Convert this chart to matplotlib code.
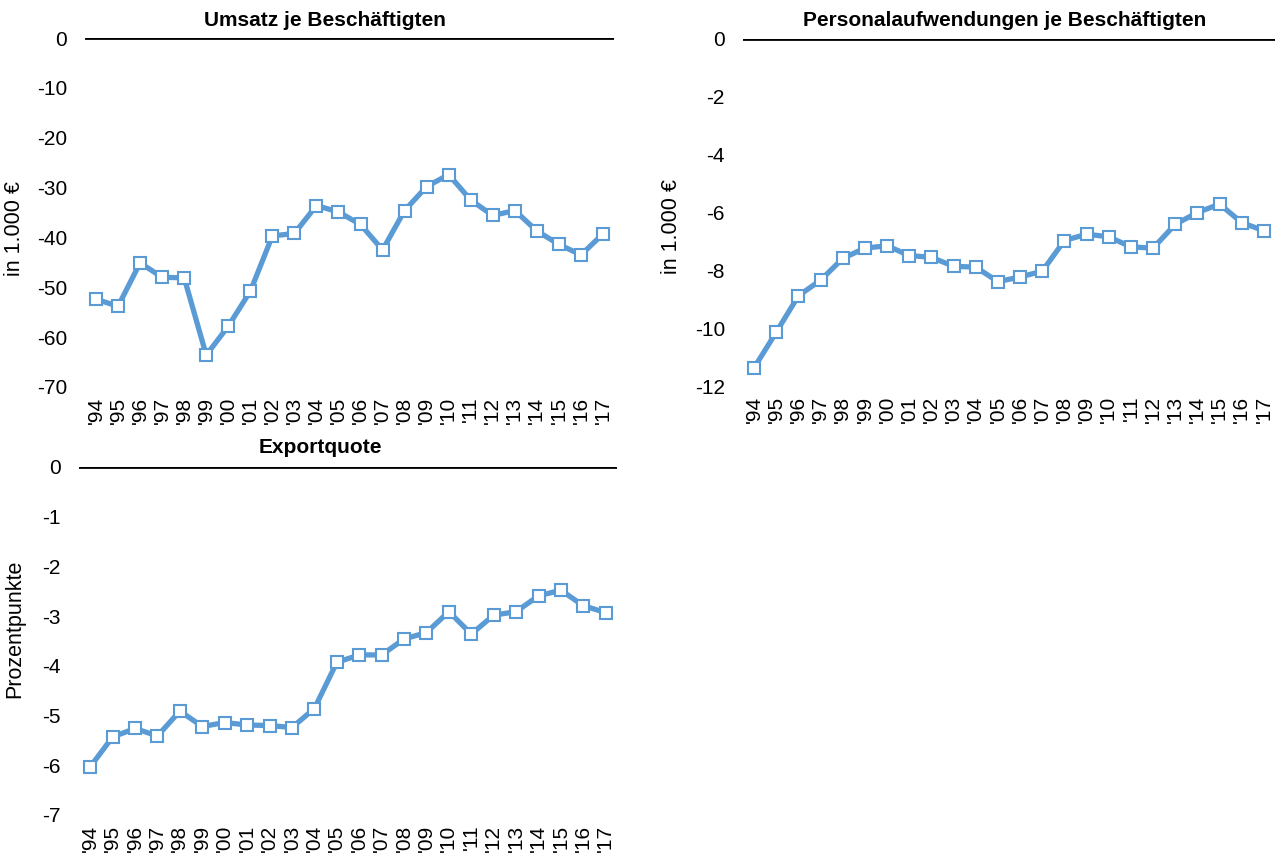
import matplotlib.pyplot as plt

plt.rcParams['font.family'] = ['Liberation Sans', 'DejaVu Sans']
plt.rcParams['axes.unicode_minus'] = False

jahre = ["'94", "'95", "'96", "'97", "'98", "'99", "'00", "'01", "'02", "'03", "'04", "'05",
         "'06", "'07", "'08", "'09", "'10", "'11", "'12", "'13", "'14", "'15", "'16", "'17"]

# Abstand zum Vergleichswert, je Jahr
umsatz = [-52.4, -53.8, -45.1, -48.0, -48.1, -63.6, -57.8, -50.8, -39.7, -39.2, -33.6, -34.9,
          -37.4, -42.5, -34.6, -29.8, -27.4, -32.5, -35.6, -34.6, -38.7, -41.4, -43.5, -39.3]
personal = [-11.37, -10.14, -8.88, -8.34, -7.59, -7.23, -7.15, -7.49, -7.55, -7.86, -7.89, -8.39,
            -8.23, -8.03, -6.97, -6.75, -6.84, -7.19, -7.23, -6.41, -6.00, -5.71, -6.35, -6.63]
export = [-6.03, -5.43, -5.26, -5.41, -4.91, -5.22, -5.14, -5.19, -5.20, -5.24, -4.86, -3.93,
          -3.78, -3.78, -3.46, -3.33, -2.91, -3.36, -2.98, -2.91, -2.59, -2.48, -2.79, -2.93]

titel = ['Umsatz je Beschäftigten', 'Personalaufwendungen je Beschäftigten', 'Exportquote']
einheit = ['in 1.000 €', 'in 1.000 €', 'Prozentpunkte']
yticks = [list(range(0, -71, -10)), list(range(0, -13, -2)), list(range(0, -8, -1))]

blau = '#5B9BD5'
W, H = 1284, 856

fig = plt.figure(figsize=(W / 100, H / 100), dpi=100)

def px_axes(x0, x1, y0, y1):
    # Pixelkoordinaten (oben links) -> Figure-Anteile
    return fig.add_axes([x0 / W, 1 - y1 / H, (x1 - x0) / W, (y1 - y0) / H])

achsen = [px_axes(85, 614, 38, 387), px_axes(743, 1275, 39, 386), px_axes(79, 617, 467, 815)]
reihen = [umsatz, personal, export]
titel_pos = [(325, 20), (1005, 20), (320, 448)]
label_pos = [(15, 229), (672, 227), (15, 629)]

for ax, werte, t, e, yt, tp, lp in zip(achsen, reihen, titel, einheit, yticks, titel_pos, label_pos):
    x = list(range(len(jahre)))
    ax.plot(x, werte, color=blau, lw=3.8, marker='s', ms=8,
            mfc='white', mec=blau, mew=1.5, zorder=3)
    ax.axhline(0, color='black', lw=2, zorder=2)
    ax.set_xlim(-0.5, len(jahre) - 0.5)
    ax.set_ylim(min(yt), 0)
    ax.set_yticks(yt)
    ax.set_xticks(x)
    ax.set_xticklabels(jahre, rotation=90, fontsize=15)
    ax.tick_params(axis='y', length=0, pad=13, labelsize=15)
    ax.tick_params(axis='x', length=0, pad=7)
    for s in ax.spines.values():
        s.set_visible(False)
    ax.patch.set_alpha(0)
    fig.text(tp[0] / W, 1 - tp[1] / H, t, ha='center', va='center',
             fontsize=15, fontweight='bold')
    fig.text(lp[0] / W, 1 - lp[1] / H, e, ha='center', va='center',
             rotation=90, fontsize=15.5)

fig.savefig('out.png', dpi=100)
